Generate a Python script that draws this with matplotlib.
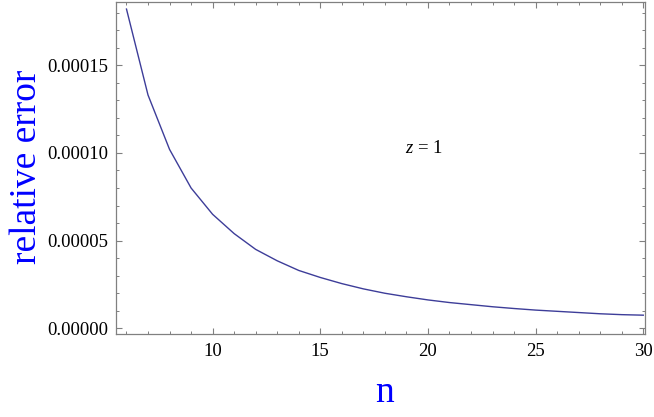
import matplotlib
matplotlib.use("Agg")
import matplotlib.pyplot as plt
from matplotlib.ticker import MultipleLocator, FormatStrFormatter

# ---- data ----
n_values = [6, 7, 8, 9, 10, 11, 12, 13, 14, 15, 16, 17, 18,
            19, 20, 21, 22, 23, 24, 25, 26, 27, 28, 29, 30]
rel_error = [1.82e-4, 1.33e-4, 1.02e-4, 8.0e-5, 6.5e-5, 5.4e-5, 4.5e-5,
             3.85e-5, 3.3e-5, 2.9e-5, 2.55e-5, 2.25e-5, 2.0e-5, 1.8e-5,
             1.62e-5, 1.47e-5, 1.35e-5, 1.23e-5, 1.13e-5, 1.04e-5,
             0.97e-5, 0.9e-5, 0.83e-5, 0.78e-5, 0.75e-5]
x_ticks = [10, 15, 20, 25, 30]
y_ticks = [0.0, 0.00005, 0.00010, 0.00015]
annotation = "z = 1"

plt.rcParams['font.family'] = ['Liberation Serif', 'DejaVu Serif']
plt.rcParams['mathtext.fontset'] = 'custom'
plt.rcParams['mathtext.rm'] = 'Liberation Serif'
plt.rcParams['mathtext.it'] = 'Liberation Serif:italic'

W, H = 654, 417
fig = plt.figure(figsize=(W / 100, H / 100), dpi=100)
left, right, top, bottom = 115.5, 645.0, 1.7, 334.3
ax = fig.add_axes([left / W, 1 - bottom / H, (right - left) / W, (bottom - top) / H])

line_color = '#3d3d99'
ax.plot(n_values, rel_error, color=line_color, lw=1.0)

ax.set_xlim(5.49, 30.08)
ax.set_ylim(-3.4e-6, 1.862e-4)

ax.set_xticks(x_ticks)
ax.xaxis.set_minor_locator(MultipleLocator(1))
ax.set_yticks(y_ticks)
ax.yaxis.set_minor_locator(MultipleLocator(1e-5))
ax.yaxis.set_major_formatter(FormatStrFormatter('%.5f'))

frame_color = '#808080'
for s in ax.spines.values():
    s.set_color(frame_color)
    s.set_linewidth(0.9)

ax.tick_params(which='both', direction='in', top=True, right=True,
               color=frame_color, labelsize=13.5, labelcolor='black')
ax.tick_params(which='major', length=4.5, width=0.8)
ax.tick_params(which='minor', length=2.5, width=0.7)
ax.tick_params(axis='x', which='major', pad=6)
ax.tick_params(axis='y', which='major', pad=5)

ax.set_ylabel('relative error', color='#0000ff', fontsize=27)
ax.yaxis.set_label_coords(-0.135, 0.503)
ax.set_xlabel('n', color='#0000ff', fontsize=27)
ax.xaxis.set_label_coords(0.508, -0.125)

ax.text(19.81, 1.028e-4, r'$z$ = 1', fontsize=13.5, ha='center', va='center')

fig.savefig('out.png', dpi=100)
